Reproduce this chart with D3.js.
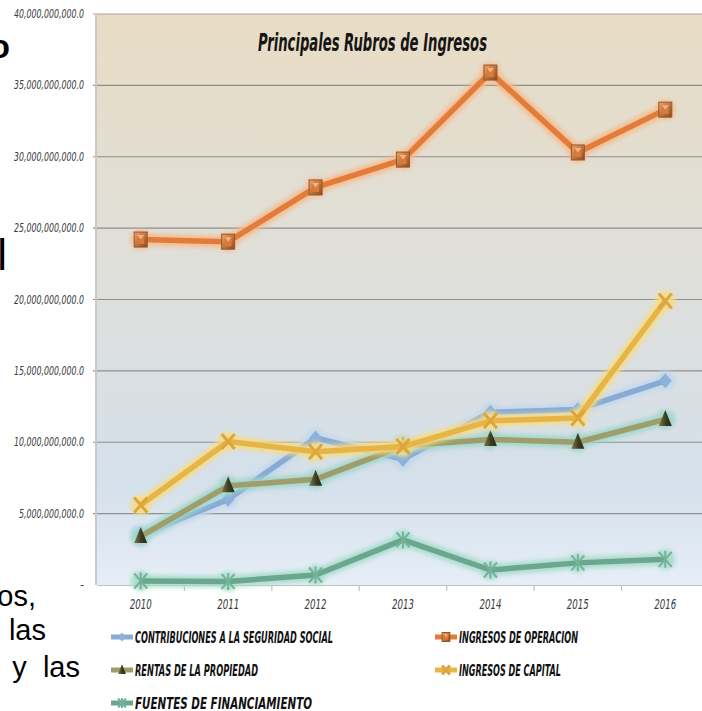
<!DOCTYPE html>
<html>
<meta charset="utf-8">
<script src="https://d3js.org/d3.v7.min.js"></script>
<style>
  body { margin: 0; background: #ffffff; }
  svg { display: block; }
  .narrow { font-family: "Liberation Sans Narrow", "DejaVu Sans Condensed", "Liberation Sans", sans-serif; }
  .slide { font-family: "Liberation Sans", Arial, sans-serif; fill: #000; }
</style>
<body>
<div id="vis"></div>
<script>
  // data
  var years = ["2010", "2011", "2012", "2013", "2014", "2015", "2016"];
  var contribuciones = [3500000000, 6000000000, 10300000000, 8800000000, 12100000000, 12300000000, 14300000000];
  var operacion      = [24200000000, 24050000000, 27850000000, 29800000000, 35900000000, 30300000000, 33300000000];
  var rentas         = [3400000000, 6950000000, 7400000000, 9750000000, 10200000000, 10000000000, 11600000000];
  var capital        = [5600000000, 10050000000, 9330000000, 9700000000, 11500000000, 11700000000, 19900000000];
  var fuentes        = [280000000, 250000000, 700000000, 3160000000, 1050000000, 1550000000, 1800000000];
  var seriesNames = ["CONTRIBUCIONES A LA SEGURIDAD SOCIAL", "INGRESOS DE OPERACION",
                     "RENTAS DE LA PROPIEDAD", "INGRESOS DE CAPITAL", "FUENTES DE FINANCIAMIENTO"];
  var yTicks = [0, 5000000000, 10000000000, 15000000000, 20000000000, 25000000000, 30000000000, 35000000000, 40000000000];
  var title = "Principales Rubros de Ingresos";

  var series = [
    { name: seriesNames[0], values: contribuciones, color: "#87abd4", glow: "#c3d7ee", marker: "diamond" },
    { name: seriesNames[1], values: operacion,      color: "#e27c3b", glow: "#f7b98a", marker: "square" },
    { name: seriesNames[2], values: rentas,         color: "#9d9e6c", glow: "#9fd6c8", marker: "triangle" },
    { name: seriesNames[3], values: capital,        color: "#e6b545", glow: "#f7dc86", marker: "cross" },
    { name: seriesNames[4], values: fuentes,        color: "#6aa78e", glow: "#a6dcc8", marker: "star" }
  ];

  var total_width = 702, total_height = 711;
  var plot = { left: 97, right: 709, top: 14, bottom: 585 };

  var svg = d3.select("#vis").append("svg")
    .attr("width", total_width)
    .attr("height", total_height);

  var defs = svg.append("defs");
  var bg = defs.append("linearGradient").attr("id", "bgGrad")
    .attr("x1", 0).attr("y1", 0).attr("x2", 0).attr("y2", 1);
  bg.append("stop").attr("offset", "0%").attr("stop-color", "#e8dcc4");
  bg.append("stop").attr("offset", "45%").attr("stop-color", "#dfdfda");
  bg.append("stop").attr("offset", "82%").attr("stop-color", "#d4e0eb");
  bg.append("stop").attr("offset", "100%").attr("stop-color", "#e6eef7");

  var sq = defs.append("linearGradient").attr("id", "sqGrad")
    .attr("x1", 0).attr("y1", 0).attr("x2", 1).attr("y2", 1);
  sq.append("stop").attr("offset", "0%").attr("stop-color", "#f0a46a");
  sq.append("stop").attr("offset", "100%").attr("stop-color", "#8a4a1e");

  var tri = defs.append("linearGradient").attr("id", "triGrad")
    .attr("x1", 0).attr("y1", 0).attr("x2", 1).attr("y2", 0);
  tri.append("stop").attr("offset", "0%").attr("stop-color", "#7d7a50");
  tri.append("stop").attr("offset", "55%").attr("stop-color", "#3c3a22");
  tri.append("stop").attr("offset", "100%").attr("stop-color", "#2a2a18");

  defs.append("filter").attr("id", "blur")
    .attr("x", "-20%").attr("y", "-20%").attr("width", "140%").attr("height", "140%")
    .append("feGaussianBlur").attr("stdDeviation", 2.2);

  // scales
  var x = d3.scaleBand().domain(years).range([plot.left, plot.right]).padding(0);
  var cx = function(d) { return x(d) + x.bandwidth() / 2; };
  var y = d3.scaleLinear().domain([0, 40000000000]).range([plot.bottom, plot.top]);

  // background of plot area
  svg.append("rect")
    .attr("x", plot.left).attr("y", plot.top)
    .attr("width", plot.right - plot.left).attr("height", plot.bottom - plot.top)
    .attr("fill", "url(#bgGrad)");

  // gridlines
  svg.append("g").selectAll("line")
    .data(yTicks.filter(function(d) { return d > 0; }))
    .enter().append("line")
      .attr("x1", plot.left - 4).attr("x2", plot.right)
      .attr("y1", function(d) { return y(d); })
      .attr("y2", function(d) { return y(d); })
      .attr("stroke", function(d) { return d == 40000000000 ? "#ad9f9f" : "#8e8e8e"; })
      .attr("stroke-width", 1.2);

  // left axis line
  svg.append("line")
    .attr("x1", plot.left - 1).attr("x2", plot.left - 1)
    .attr("y1", plot.top).attr("y2", plot.bottom)
    .attr("stroke", "#c9c9c9").attr("stroke-width", 2);

  // y labels (narrow italic; width set from digit count)
  var fmt = d3.format(",.1f");
  var labelWidth = function(s) {
    var digits = s.replace(/[^0-9]/g, "").length;
    return digits * 5 + (s.length - digits) * 2.5;
  };
  svg.append("g").selectAll("text")
    .data(yTicks)
    .enter().append("text")
      .attr("class", "narrow")
      .attr("x", 84)
      .attr("y", function(d) { return y(d) + 4; })
      .attr("text-anchor", "end")
      .attr("font-size", 11.5)
      .attr("font-style", "italic")
      .attr("fill", "#3c3c3c")
      .attr("textLength", function(d) { return d == 0 ? null : labelWidth(fmt(d)); })
      .attr("lengthAdjust", "spacingAndGlyphs")
      .text(function(d) { return d == 0 ? "-" : fmt(d); });

  // x axis
  var xAxis = svg.append("g")
    .attr("transform", "translate(0," + plot.bottom + ")")
    .call(d3.axisBottom(x).tickSize(0).tickPadding(14));
  xAxis.select(".domain").attr("stroke", "#c2c2c2").attr("stroke-width", 1.2);
  xAxis.selectAll("text")
    .attr("class", "narrow")
    .attr("font-size", 14)
    .attr("font-style", "italic")
    .attr("fill", "#3c3c3c")
    .attr("textLength", 22)
    .attr("lengthAdjust", "spacingAndGlyphs");
  svg.append("g").selectAll("line")
    .data(years.slice(1))
    .enter().append("line")
      .attr("x1", function(d) { return x(d); })
      .attr("x2", function(d) { return x(d); })
      .attr("y1", plot.bottom).attr("y2", plot.bottom + 6)
      .attr("stroke", "#c2c2c2").attr("stroke-width", 1.2);

  // marker shapes
  function drawMarker(g, s, size) {
    var k = size || 1;
    if (s.marker == "diamond") {
      g.append("path").attr("d", "M0," + (-7.5 * k) + "L" + (6.5 * k) + ",0L0," + (7.5 * k) + "L" + (-6.5 * k) + ",0Z")
        .attr("fill", "#8cb1da");
    } else if (s.marker == "square") {
      g.append("rect").attr("x", -6.5 * k).attr("y", -7.5 * k).attr("width", 13 * k).attr("height", 15 * k)
        .attr("fill", "url(#sqGrad)").attr("stroke", "#9a5426").attr("stroke-width", 1);
      g.append("rect").attr("x", -3.5 * k).attr("y", -4.5 * k).attr("width", 7 * k).attr("height", 9 * k)
        .attr("fill", "#d77a3c");
      g.append("path").attr("d", "M" + (-3.5 * k) + "," + (-4.5 * k) + "L0,0L" + (3.5 * k) + "," + (-4.5 * k) + "Z")
        .attr("fill", "#f4b27c");
    } else if (s.marker == "triangle") {
      g.append("path").attr("d", "M0," + (-9.5 * k) + "L" + (6.5 * k) + "," + (6.5 * k) + "L" + (-6.5 * k) + "," + (6.5 * k) + "Z")
        .attr("fill", "url(#triGrad)");
    } else if (s.marker == "cross") {
      g.append("path").attr("d", "M" + (-6.5 * k) + "," + (-7.5 * k) + "L" + (6.5 * k) + "," + (7.5 * k) +
                                  "M" + (6.5 * k) + "," + (-7.5 * k) + "L" + (-6.5 * k) + "," + (7.5 * k))
        .attr("stroke", "#dda63a").attr("stroke-width", 3).attr("fill", "none");
    } else if (s.marker == "star") {
      g.append("path").attr("d", "M" + (-6.5 * k) + "," + (-7.5 * k) + "L" + (6.5 * k) + "," + (7.5 * k) +
                                  "M" + (6.5 * k) + "," + (-7.5 * k) + "L" + (-6.5 * k) + "," + (7.5 * k) +
                                  "M0," + (-8.5 * k) + "L0," + (8.5 * k))
        .attr("stroke", "#74b39a").attr("stroke-width", 2).attr("fill", "none");
    }
  }

  var line = d3.line()
    .x(function(d, i) { return cx(years[i]); })
    .y(function(d) { return y(d); });

  series.forEach(function(s) {
    var g = svg.append("g");
    // soft glow
    var glow = g.append("g").attr("filter", "url(#blur)").attr("opacity", 0.9);
    glow.append("path").datum(s.values)
      .attr("d", line).attr("fill", "none")
      .attr("stroke", s.glow).attr("stroke-width", 12).attr("stroke-linejoin", "round");
    glow.selectAll("circle").data(s.values).enter().append("circle")
      .attr("cx", function(d, i) { return cx(years[i]); })
      .attr("cy", function(d) { return y(d); })
      .attr("r", 10).attr("fill", s.glow);
    g.append("path").datum(s.values)
      .attr("d", line).attr("fill", "none")
      .attr("stroke", s.color).attr("stroke-width", 5.5).attr("stroke-linejoin", "round");
    g.selectAll("g.mk").data(s.values).enter().append("g")
      .attr("class", "mk")
      .attr("transform", function(d, i) { return "translate(" + cx(years[i]) + "," + y(d) + ")"; })
      .each(function() { drawMarker(d3.select(this), s); });
  });

  // title
  svg.append("text")
    .attr("class", "narrow")
    .attr("x", 258).attr("y", 51)
    .attr("font-size", 24).attr("font-weight", "bold").attr("font-style", "italic")
    .attr("fill", "#151515")
    .attr("textLength", 229).attr("lengthAdjust", "spacingAndGlyphs")
    .text(title);

  // legend
  var legendPos = [
    { x: 111, y: 637, w: 198 },
    { x: 435, y: 637, w: 119 },
    { x: 111, y: 670, w: 123 },
    { x: 435, y: 670, w: 102 },
    { x: 111, y: 703, w: 177 }
  ];
  series.forEach(function(s, i) {
    var p = legendPos[i];
    var lg = svg.append("g").attr("transform", "translate(" + p.x + "," + p.y + ")");
    lg.append("line").attr("x1", 0).attr("x2", 22).attr("y1", 0).attr("y2", 0)
      .attr("stroke", s.color).attr("stroke-width", 5);
    var m = lg.append("g").attr("transform", "translate(11,0)");
    drawMarker(m, s, 0.6);
    lg.append("text")
      .attr("class", "narrow")
      .attr("x", 24).attr("y", 6)
      .attr("font-size", 16).attr("font-weight", "bold").attr("font-style", "italic")
      .attr("fill", "#111")
      .attr("textLength", p.w).attr("lengthAdjust", "spacingAndGlyphs")
      .text(s.name);
  });

  // fragments of the slide text behind the chart
  svg.append("text").attr("class", "slide").attr("x", 10).attr("y", 58)
    .attr("text-anchor", "end").attr("font-size", 33).attr("font-weight", "bold").text("o");
  svg.append("text").attr("class", "slide").attr("x", 7).attr("y", 270)
    .attr("text-anchor", "end").attr("font-size", 44).text("l");
  svg.append("text").attr("class", "slide").attr("x", 36).attr("y", 606)
    .attr("text-anchor", "end").attr("font-size", 29).text("os,");
  svg.append("text").attr("class", "slide").attr("x", 46).attr("y", 640)
    .attr("text-anchor", "end").attr("font-size", 29).text("las");
  svg.append("text").attr("class", "slide").attr("x", 80).attr("y", 677)
    .attr("text-anchor", "end").attr("font-size", 29).attr("xml:space", "preserve").text("y  las");
</script>
</body>
</html>
